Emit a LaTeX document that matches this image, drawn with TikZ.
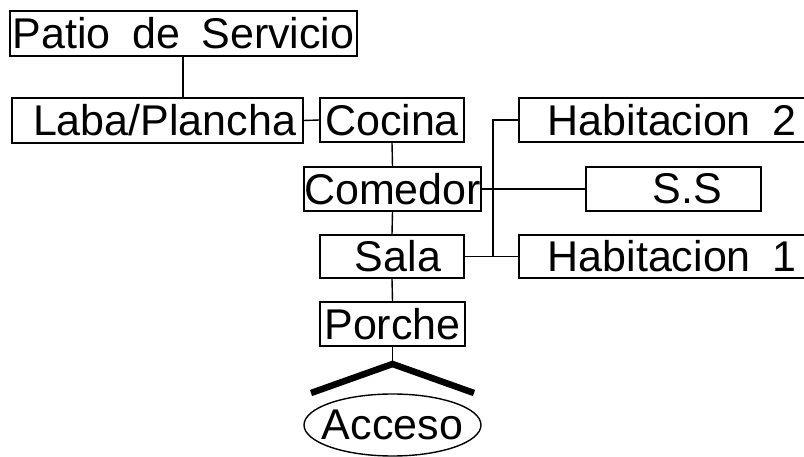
\documentclass[tikz,border=0pt]{standalone}
\usepackage{fontspec}
\setmainfont{Liberation Sans}[WordSpace=1.8]
\usetikzlibrary{shapes.geometric}

\tikzset{
	room/.style = {draw, line width = 1.4pt, inner sep = 0pt, font = \fontsize{43}{46}\selectfont},
	link/.style = {line width = 1.4pt}
}

\begin{document}
\begin{tikzpicture} [x = 1pt, y = -1pt]
	\clip (0,0) rectangle (804,457);
	% boxes
	\node [room, minimum width = 347, minimum height = 45] (patio) at (183.5,33.5) {Patio de Servicio};
	\node [room, minimum width = 291, minimum height = 45] (laba) at (157.5,120.5) {\hspace{14pt}Laba/Plancha};
	\node [room, minimum width = 144, minimum height = 44] (cocina) at (392,120) {Cocina};
	\node [room, minimum width = 175, minimum height = 44] (comedor) at (392.5,189) {Comedor};
	\node [room, minimum width = 144, minimum height = 43] (sala) at (392,256.5) {\hspace{12pt}Sala};
	\node [room, minimum width = 145, minimum height = 44] (porche) at (392.5,324) {Porche};
	\node [room, minimum width = 293, minimum height = 44] (hab2) at (665.5,120) {\hspace{13pt}Habitacion 2};
	\node [room, minimum width = 175, minimum height = 44] (ss) at (673.5,189) {\hspace{28pt}S.S};
	\node [room, minimum width = 293, minimum height = 43] (hab1) at (665.5,256.5) {\hspace{13pt}Habitacion 1};
	\node [room, ellipse, inner xsep = -8pt, minimum width = 177, minimum height = 62] (acceso) at (392.5,425) {Acceso};
	%\node at (392.5,380) {entrada};
	% connectors
	\draw [link] (patio.south -| 183,0) -- (laba.north -| 183,0);
	\draw [link] (laba.east) -- (cocina.west);
	\draw [link] (cocina.south) -- (comedor.north);
	\draw [link] (comedor.south) -- (sala.north);
	\draw [link] (sala.south) -- (porche.north);
	\coordinate (bus) at (493,0);
	\draw [link] (hab2.west) -- (hab2.west -| bus) -- (sala.east -| bus) -- (sala.east);
	\draw [link] (sala.east) -- (hab1.west);
	\draw [link] (comedor.east) -- (ss.west);
	% roof over the entry
	\coordinate (apex) at (392.5,364);
	\draw [link] (porche.south) -- (apex);
	\draw [line width = 6.5pt] (311,393) -- (apex) -- (474,393);
\end{tikzpicture}
\end{document}
